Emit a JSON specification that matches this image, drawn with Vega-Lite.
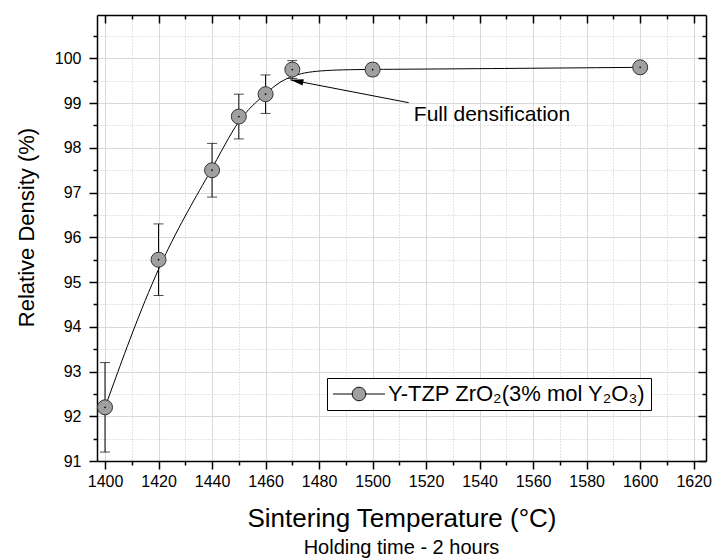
{
  "$schema": "https://vega.github.io/schema/vega-lite/v6.json",
  "width": 609,
  "height": 446,
  "autosize": "none",
  "padding": {"left": 97, "top": 15, "right": 8, "bottom": 97},
  "background": "white",
  "config": {"font": "Liberation Sans", "view": {"stroke": null}},
  "title": {"text": "Holding time - 2 hours", "orient": "bottom", "anchor": "middle", "fontSize": 20, "fontWeight": "normal", "font": "Liberation Sans", "color": "black", "offset": 7},
  "datasets": {
    "main": [
      {"T": 1400, "density": 92.2, "err": 1.0},
      {"T": 1420, "density": 95.5, "err": 0.8},
      {"T": 1440, "density": 97.5, "err": 0.6},
      {"T": 1450, "density": 98.7, "err": 0.5},
      {"T": 1460, "density": 99.2, "err": 0.43},
      {"T": 1470, "density": 99.75, "err": 0.2},
      {"T": 1500, "density": 99.75, "err": 0.14},
      {"T": 1600, "density": 99.8, "err": 0.1}
    ],
    "arrow": [
      {"T": 1513.5, "v": 99.01, "T2": 1469.3, "v2": 99.52}
    ],
    "head": [
      {"T": 1469.3, "v": 99.52}
    ],
    "note": [
      {"T": 1515.4, "v": 98.6, "label": "Full densification"}
    ]
  },
  "resolve": {"axis": {"x": "independent", "y": "independent"}},
  "layer": [
    {
      "data": {"name": "main"},
      "mark": {"type": "errorbar", "ticks": true, "size": 10, "thickness": 1, "color": "black"},
      "encoding": {
        "x": {
          "field": "T", "type": "quantitative",
          "scale": {"domain": [1397, 1624.6], "nice": false, "zero": false},
          "axis": {
            "orient": "bottom",
            "title": "Sintering Temperature (°C)",
            "titleFont": "Liberation Sans", "titleFontSize": 26, "titleFontWeight": "normal", "titleColor": "black",
            "titleBaseline": "alphabetic", "titleY": 65,
            "values": [1400,1410,1420,1430,1440,1450,1460,1470,1480,1490,1500,1510,1520,1530,1540,1550,1560,1570,1580,1590,1600,1610,1620],
            "format": "d",
            "labelExpr": "datum.value % 20 == 0 ? datum.label : ''",
            "labelFontSize": 16, "labelColor": "black", "labelPadding": 4, "labelFont": "Liberation Sans",
            "tickColor": "black", "tickWidth": 1.5,
            "tickSize": {"condition": {"test": "datum.value % 20 == 0", "value": 8}, "value": 4},
            "domainColor": "black", "domainWidth": 1.5,
            "grid": true,
            "gridColor": {"condition": {"test": "datum.value % 20 == 0", "value": "#d9d9d9"}, "value": "#c8c8c8"},
            "gridDash": {"condition": {"test": "datum.value % 20 == 0", "value": []}, "value": [1, 2]},
            "gridWidth": 1
          }
        },
        "y": {
          "field": "density", "type": "quantitative",
          "scale": {"domain": [91, 100.97], "nice": false, "zero": false},
          "axis": {
            "orient": "left",
            "title": "Relative Density (%)",
            "titleFont": "Liberation Sans", "titleFontSize": 22, "titleFontWeight": "normal", "titleColor": "black",
            "titleBaseline": "alphabetic", "titleX": -64, "titleY": 212, "titleAngle": -90, "titleAlign": "center",
            "values": [91,91.5,92,92.5,93,93.5,94,94.5,95,95.5,96,96.5,97,97.5,98,98.5,99,99.5,100,100.5],
            "labelExpr": "datum.value % 1 == 0 ? format(datum.value, 'd') : ''",
            "labelFontSize": 16, "labelColor": "black", "labelPadding": 8, "labelFont": "Liberation Sans",
            "tickColor": "black", "tickWidth": 1.5,
            "tickSize": {"condition": {"test": "datum.value % 1 == 0", "value": 8}, "value": 4},
            "domainColor": "black", "domainWidth": 1.5,
            "grid": true,
            "gridColor": {"condition": {"test": "datum.value % 1 == 0", "value": "#d9d9d9"}, "value": "#c8c8c8"},
            "gridDash": {"condition": {"test": "datum.value % 1 == 0", "value": []}, "value": [1, 2]},
            "gridWidth": 1
          }
        },
        "yError": {"field": "err"}
      }
    },
    {
      "data": {"name": "main"},
      "mark": {"type": "line", "interpolate": "basis", "color": "black", "strokeWidth": 1},
      "encoding": {
        "x": {
          "field": "T", "type": "quantitative",
          "scale": {"domain": [1397, 1624.6], "nice": false, "zero": false},
          "axis": {
            "orient": "top", "title": null, "labels": false, "grid": false,
            "values": [1400,1410,1420,1430,1440,1450,1460,1470,1480,1490,1500,1510,1520,1530,1540,1550,1560,1570,1580,1590,1600,1610,1620],
            "tickColor": "black", "tickWidth": 1.5,
            "tickSize": {"condition": {"test": "datum.value % 20 == 0", "value": -8}, "value": -4},
            "domainColor": "black", "domainWidth": 1.5
          }
        },
        "y": {
          "field": "density", "type": "quantitative",
          "scale": {"domain": [91, 100.97], "nice": false, "zero": false},
          "axis": {
            "orient": "right", "title": null, "labels": false, "grid": false,
            "values": [91,91.5,92,92.5,93,93.5,94,94.5,95,95.5,96,96.5,97,97.5,98,98.5,99,99.5,100,100.5],
            "tickColor": "black", "tickWidth": 1.5,
            "tickSize": {"condition": {"test": "datum.value % 1 == 0", "value": -8}, "value": -4},
            "domainColor": "black", "domainWidth": 1.5
          }
        }
      }
    },
    {
      "data": {"name": "main"},
      "mark": {"type": "point", "shape": "circle", "filled": true, "size": 225, "stroke": "#333333", "strokeWidth": 1, "opacity": 1},
      "encoding": {
        "x": {"field": "T", "type": "quantitative", "scale": {"domain": [1397, 1624.6], "nice": false, "zero": false}, "axis": null},
        "y": {"field": "density", "type": "quantitative", "scale": {"domain": [91, 100.97], "nice": false, "zero": false}, "axis": null},
        "color": {
          "datum": "Y-TZP ZrO₂(3% mol Y₂O₃)",
          "scale": {"range": ["#a0a0a0"]},
          "legend": {
            "orient": "none", "legendX": 230, "legendY": 363, "title": null,
            "symbolType": "M-3.47,0L-0.9,0M0.9,0L3.47,0M-0.9,0A0.9,0.9 0 1 1 0.9,0A0.9,0.9 0 1 1 -0.9,0Z",
            "symbolSize": 225, "symbolOffset": 16, "symbolStrokeColor": "black", "symbolStrokeWidth": 1, "symbolOpacity": 1,
            "labelFontSize": 22, "labelFont": "Liberation Sans", "labelColor": "black", "labelLimit": 0, "labelOffset": 18,
            "strokeColor": "black", "fillColor": "white", "padding": 5
          }
        }
      }
    },
    {
      "data": {"name": "main"},
      "mark": {"type": "point", "shape": "circle", "filled": true, "size": 3, "color": "black", "opacity": 1},
      "encoding": {
        "x": {"field": "T", "type": "quantitative", "scale": {"domain": [1397, 1624.6], "nice": false, "zero": false}, "axis": null},
        "y": {"field": "density", "type": "quantitative", "scale": {"domain": [91, 100.97], "nice": false, "zero": false}, "axis": null}
      }
    },
    {
      "data": {"name": "arrow"},
      "mark": {"type": "rule", "color": "black", "strokeWidth": 1},
      "encoding": {
        "x": {"field": "T", "type": "quantitative", "scale": {"domain": [1397, 1624.6], "nice": false, "zero": false}, "axis": null},
        "y": {"field": "v", "type": "quantitative", "scale": {"domain": [91, 100.97], "nice": false, "zero": false}, "axis": null},
        "x2": {"field": "T2"},
        "y2": {"field": "v2"}
      }
    },
    {
      "data": {"name": "head"},
      "mark": {"type": "point", "shape": "M0,0L-0.5,2L0.5,2Z", "filled": true, "size": 169, "color": "black", "opacity": 1, "angle": 281},
      "encoding": {
        "x": {"field": "T", "type": "quantitative", "scale": {"domain": [1397, 1624.6], "nice": false, "zero": false}, "axis": null},
        "y": {"field": "v", "type": "quantitative", "scale": {"domain": [91, 100.97], "nice": false, "zero": false}, "axis": null}
      }
    },
    {
      "data": {"name": "note"},
      "mark": {"type": "text", "align": "left", "baseline": "alphabetic", "fontSize": 21, "font": "Liberation Sans", "color": "black"},
      "encoding": {
        "x": {"field": "T", "type": "quantitative", "scale": {"domain": [1397, 1624.6], "nice": false, "zero": false}, "axis": null},
        "y": {"field": "v", "type": "quantitative", "scale": {"domain": [91, 100.97], "nice": false, "zero": false}, "axis": null},
        "text": {"field": "label"}
      }
    }
  ]
}
